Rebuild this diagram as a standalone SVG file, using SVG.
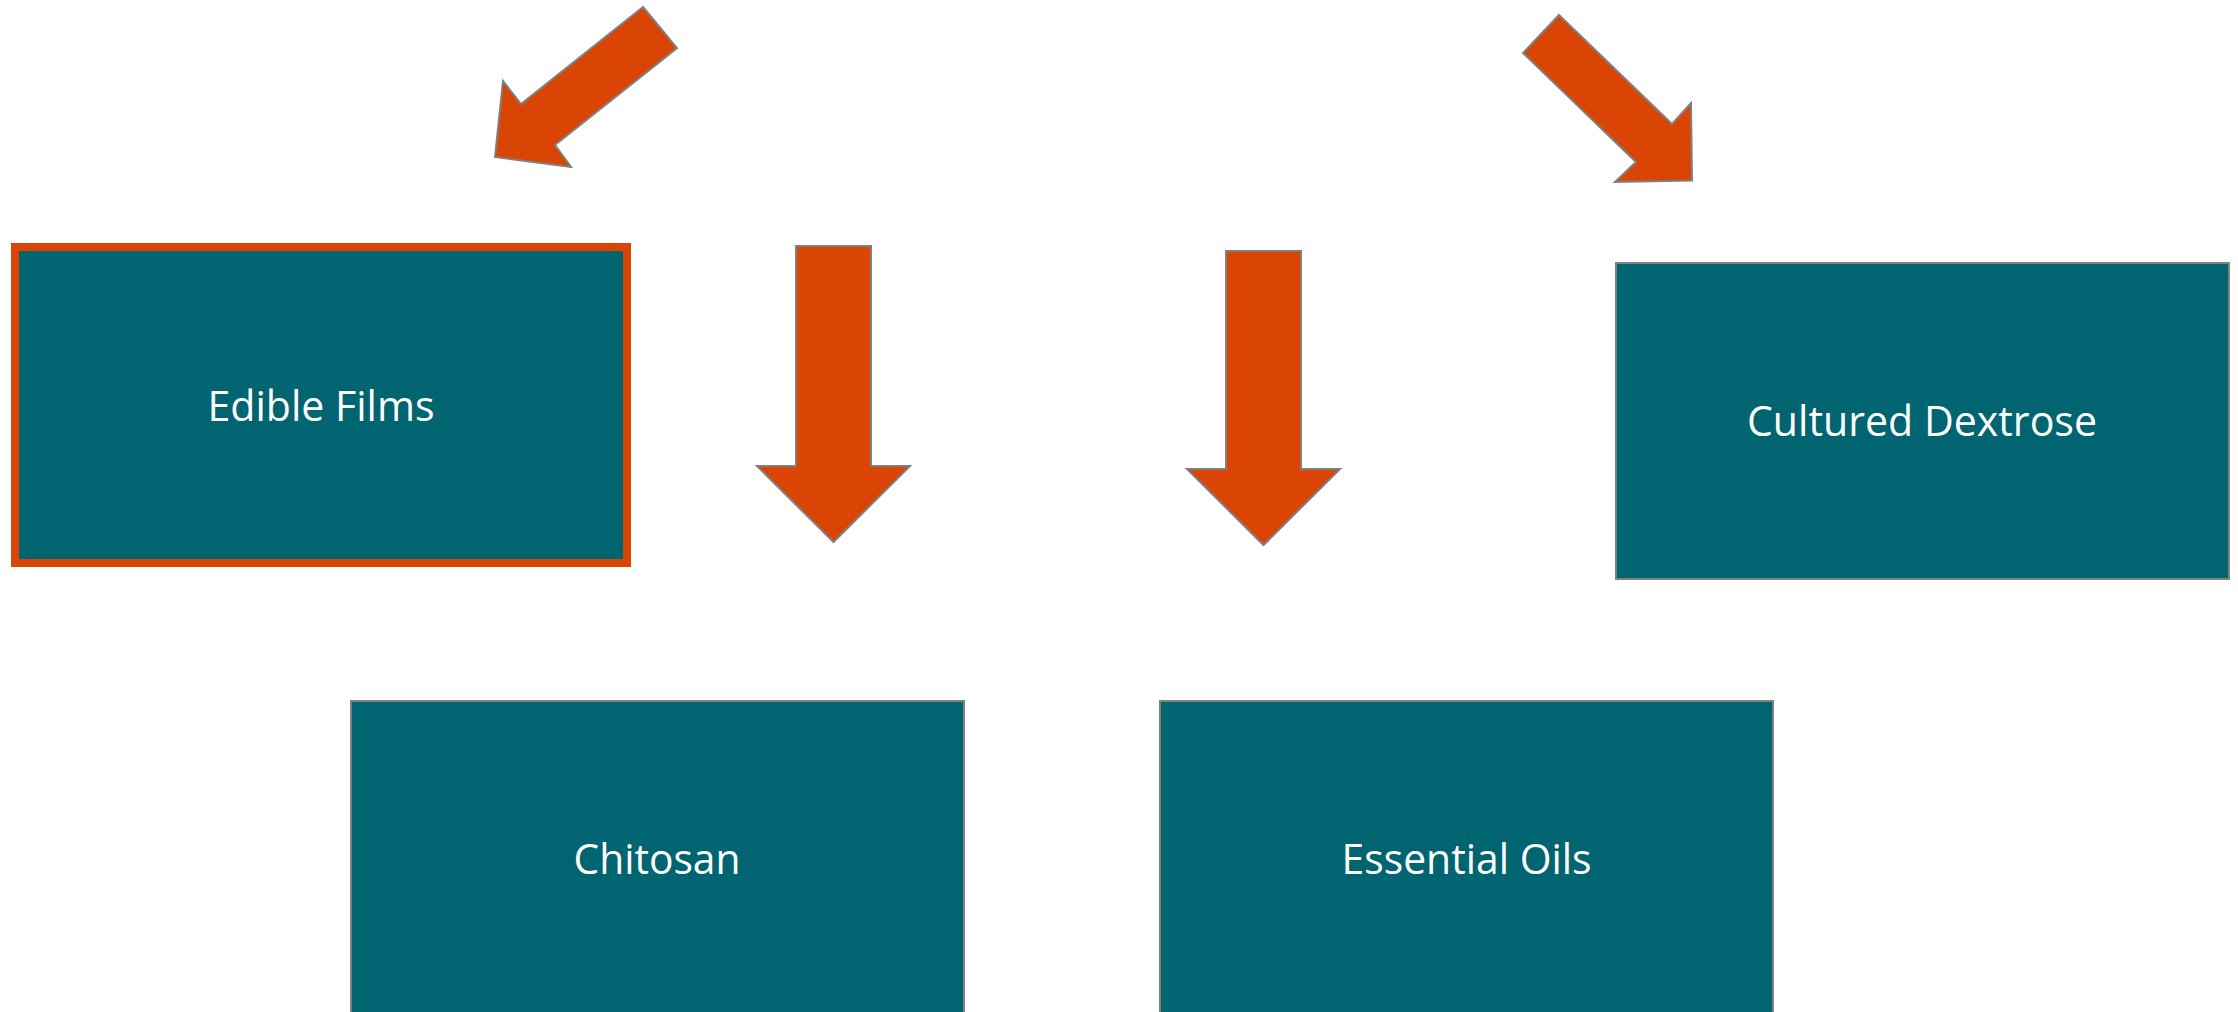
<svg xmlns="http://www.w3.org/2000/svg" width="2238" height="1012" viewBox="0 0 2238 1012">
<style>
.box{fill:#016471;stroke:#7f817c;stroke-width:2}
.sel{fill:#016471;stroke:#DA4505;stroke-width:8}
.lbl{font-family:"Open Sans","Noto Sans",sans-serif;font-size:42px;fill:#ffffff;text-anchor:middle}
.arr{fill:#DA4505;stroke:#7f817c;stroke-width:2;stroke-linejoin:miter}
</style>
<rect width="2238" height="1012" fill="#ffffff"/>
<g id="connectors">
<polygon class="arr" points="643,7 521,104 503,81 495,157 571,167 555,145 677,48"/>
<polygon class="arr" points="1559,15 1672,124 1691,103 1692,180.5 1615,182 1636,162 1523,53"/>
<polygon class="arr" points="796,246 871,246 871,466 910,466 833.5,542 757,466 796,466"/>
<polygon class="arr" points="1226,251 1301,251 1301,469 1340,469 1263.5,545 1187,469 1226,469"/>
</g>
<g id="node-edible-films">
<rect class="sel" x="15" y="247" width="612" height="316"/>
<text class="lbl" x="321" y="421" textLength="227" lengthAdjust="spacingAndGlyphs">Edible Films</text>
</g>
<g id="node-cultured-dextrose">
<rect class="box" x="1616" y="263" width="613" height="316"/>
<text class="lbl" x="1922" y="436" textLength="350" lengthAdjust="spacingAndGlyphs">Cultured Dextrose</text>
</g>
<g id="node-chitosan">
<rect class="box" x="351" y="701" width="613" height="330"/>
<text class="lbl" x="657" y="874" textLength="167" lengthAdjust="spacingAndGlyphs">Chitosan</text>
</g>
<g id="node-essential-oils">
<rect class="box" x="1160" y="701" width="613" height="330"/>
<text class="lbl" x="1466.5" y="874" textLength="250" lengthAdjust="spacingAndGlyphs">Essential Oils</text>
</g>
</svg>
